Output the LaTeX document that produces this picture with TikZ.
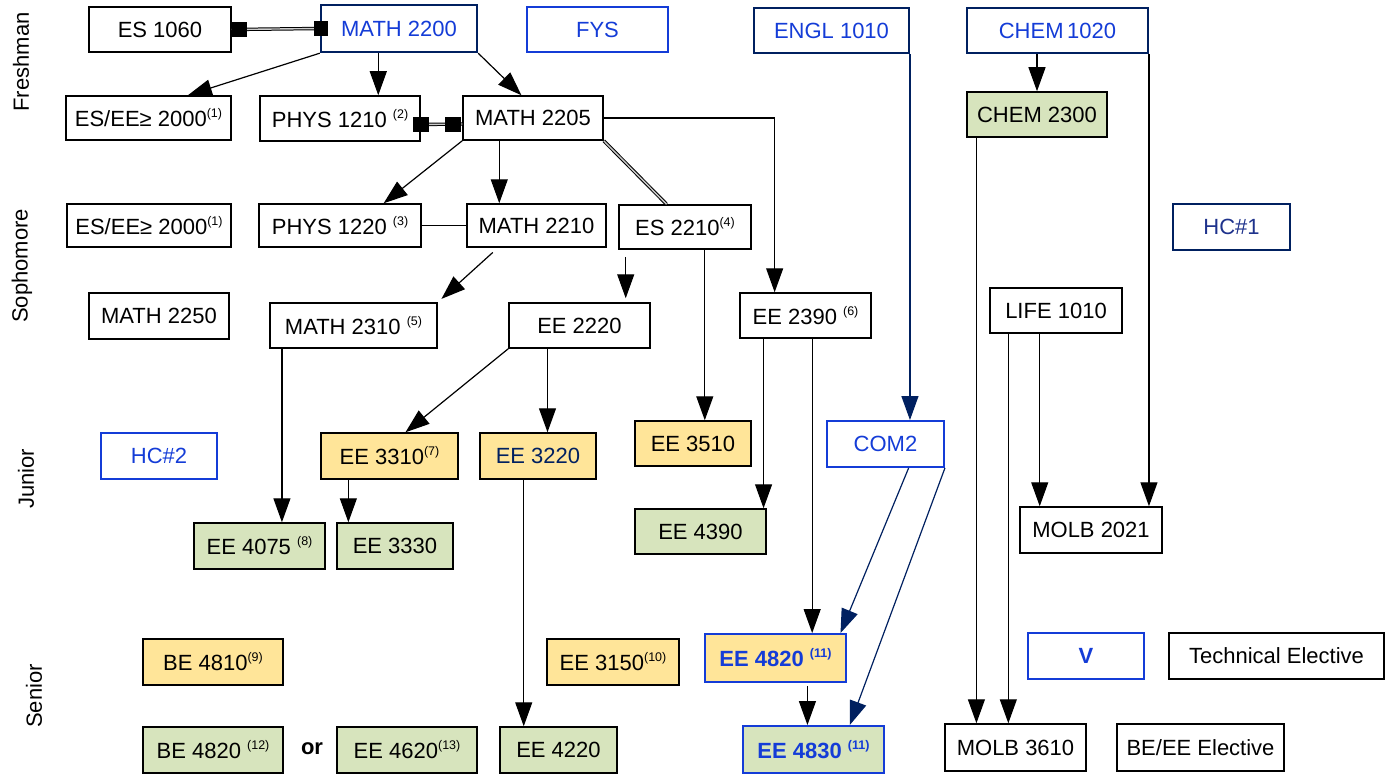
\documentclass[tikz,border=0pt]{standalone}
\usepackage{fontspec}
\setmainfont{Liberation Sans}
\usetikzlibrary{arrows.meta, positioning, calc}

\definecolor{crsblue}{RGB}{20,60,215}
\definecolor{crsnavy}{RGB}{0,32,96}
\definecolor{hcnavy}{RGB}{30,50,140}
\definecolor{crsyellow}{RGB}{255,229,153}
\definecolor{crsgreen}{RGB}{215,228,189}

\newcommand{\crsnote}[1]{\raisebox{9pt}{\fontsize{12.5}{12.5}\selectfont(#1)}}

\begin{document}
\begin{tikzpicture}[x=1pt, y=-1pt,
    sz/.style 2 args={minimum width=#1pt, minimum height=#2pt},
    crs/.style={draw, line width=1.5pt, inner sep=0pt, font=\fontsize{22}{24}\selectfont},
    req/.style={crs, line width=1.9pt, draw=crsblue, text=crsblue},
    eng/.style={crs, line width=1.9pt, draw=crsnavy, text=crsblue},
    ylw/.style={crs, fill=crsyellow},
    grn/.style={crs, fill=crsgreen},
    bld/.style={font=\fontsize{22}{24}\selectfont\bfseries},
    yr/.style={rotate=90, font=\fontsize{22}{24}\selectfont},
    arr/.style={line width=1.2pt, -{Triangle[length=24pt, width=17pt]}},
    narr/.style={arr, draw=crsnavy},
    dbl/.style={double=gray!40, double distance=1.4pt, line width=1pt}]
    \useasboundingbox (0,0) rectangle (1389,776);

    % Year labels
    \node[yr] (fresh) at (21,62) {Freshman};
    \node[yr] (soph) at (22,266) {Sophomore};
    \node[yr] (jun) at (26,479) {Junior};
    \node[yr] (sen) at (34,696) {Senior};

    % Freshman courses
    \node[crs, sz={142}{45}] (es1060) at (160,29.5) {ES 1060};
    \node[eng, line width=2.4pt, sz={156}{47}] (math2200) at (399,28.5) {MATH 2200};
    \node[req, sz={141}{45}] (fys) at (597.5,29.5) {FYS};
    \node[eng, sz={155}{45}] (engl1010) at (831.5,30.5) {ENGL 1010};
    \node[eng, sz={181}{45}] (chem1020) at (1057.5,30.5) {CHEM\,1020};
    \node[crs, sz={165}{44}] (esee1) at (148.5,118) {ES/EE≥ 2000\crsnote{1}};
    \node[crs, sz={160}{45}] (phys1210) at (340,118.5) {PHYS 1210 \crsnote{2}};
    \node[crs, sz={140}{44}] (math2205) at (533,118) {MATH 2205};
    \node[grn, sz={140}{45}] (chem2300) at (1037,114.5) {CHEM 2300};

    % Sophomore courses
    \node[crs, sz={164}{43}] (esee2) at (149,225.5) {ES/EE≥ 2000\crsnote{1}};
    \node[crs, sz={162}{43}] (phys1220) at (340,225.5) {PHYS 1220 \crsnote{3}};
    \node[crs, sz={139}{43}] (math2210) at (536.5,225.5) {MATH 2210};
    \node[crs, sz={132}{44}] (es2210) at (685,227) {ES 2210\crsnote{4}};
    \node[crs, line width=1.9pt, draw=crsnavy, text=hcnavy, sz={117}{46}] (hc1) at (1231.5,227) {HC\#1};
    \node[crs, sz={140}{46}] (math2250) at (159,316) {MATH 2250};
    \node[crs, sz={167}{45}] (math2310) at (353.5,325.5) {MATH 2310 \crsnote{5}};
    \node[crs, sz={141}{45}] (ee2220) at (579.5,325.5) {EE 2220};
    \node[crs, sz={131}{45}] (ee2390) at (805.5,315.5) {EE 2390 \crsnote{6}};
    \node[crs, sz={132}{45}] (life1010) at (1056,310.5) {LIFE 1010};

    % Junior courses
    \node[req, sz={116}{46}] (hc2) at (159,456) {HC\#2};
    \node[ylw, sz={137}{46}] (ee3310) at (389.5,456) {EE 3310\crsnote{7}};
    \node[ylw, text=crsnavy, sz={116}{46}] (ee3220) at (538,456) {EE 3220};
    \node[ylw, sz={116}{45}] (ee3510) at (693,443.5) {EE 3510};
    \node[req, sz={117}{46}] (com2) at (885.5,444) {COM2};
    \node[grn, sz={131}{46}] (ee4075) at (259.5,546) {EE 4075 \crsnote{8}};
    \node[grn, sz={116}{46}] (ee3330) at (395,546) {EE 3330};
    \node[grn, sz={131}{45}] (ee4390) at (700.5,531.5) {EE 4390};
    \node[crs, sz={142}{46}] (molb2021) at (1091,530) {MOLB 2021};

    % Senior courses
    \node[ylw, sz={140}{46}] (be4810) at (213,662) {BE 4810\crsnote{9}};
    \node[ylw, sz={132}{46}] (ee3150) at (613,662) {EE 3150\crsnote{10}};
    \node[ylw, line width=1.9pt, draw=crsblue, text=crsblue, bld, sz={141}{48}] (ee4820) at (775.5,658) {EE 4820 \crsnote{11}};
    \node[req, bld, sz={116}{46}] (elecv) at (1086,656) {V};
    \node[crs, sz={215}{46}] (techel) at (1276.5,656) {Technical Elective};
    \node[grn, sz={140}{46}] (be4820) at (213,750) {BE 4820 \crsnote{12}};
    \node[bld] (orlbl) at (312,749) {or};
    \node[grn, sz={140}{46}] (ee4620) at (407,750) {EE 4620\crsnote{13}};
    \node[grn, sz={117}{46}] (ee4220) at (558.5,750) {EE 4220};
    \node[grn, line width=1.9pt, draw=crsblue, text=crsblue, bld, sz={141}{47}] (ee4830) at (813.5,749.5) {EE 4830 \crsnote{11}};
    \node[crs, sz={141}{47}] (molb3610) at (1015.5,747.5) {MOLB 3610};
    \node[crs, sz={167}{47}] (beee) at (1200.5,747.5) {BE/EE Elective};

    % Freshman links
    \draw[dbl] (es1060.east) -- (math2200.west);
    \fill ([yshift=7.5pt]es1060.east) rectangle ++(15,15);
    \fill ([shift={(-6pt,7.5pt)}]math2200.west) rectangle ++(14,15);
    \draw[arr] (math2200.south west) -- (esee1.30);
    \draw[arr] (math2200.-130) -- (math2200.-130 |- phys1210.north);
    \draw[arr] (math2200.south east) -- (math2205.117);
    \draw[arr] (chem2300.north |- chem1020.south) -- (chem2300.north);
    \draw[dbl] ([yshift=-6pt]phys1210.east) -- ([yshift=-6pt]math2205.west);
    \fill ([shift={(-7.5pt,1.5pt)}]phys1210.east) rectangle ++(16,15);
    \fill ([shift={(-17pt,1.5pt)}]math2205.west) rectangle ++(16,15);

    % Sophomore links
    \draw[arr] (math2205.south west) -- (phys1220.27);
    \draw[arr] (math2205.-146) -- (math2205.-146 |- math2210.north);
    \draw[dbl] (math2205.south east) -- (es2210.129);
    \draw[arr] (math2205.east) -| (ee2390.143);
    \draw[line width=1.2pt] (phys1220.east) -- (math2210.west);
    \draw[arr, shorten <=7pt, shorten >=5pt] (math2210.-150) -- (math2310.north east);
    \draw[arr, shorten <=7pt, shorten >=4pt] (es2210.-159) -- (es2210.-159 |- ee2220.north);
    \draw[arr] (es2210.-49) -- (es2210.-49 |- ee3510.north);

    % Junior links
    \draw[arr] (ee2390.-151) -- (ee2390.-151 |- ee4390.north);
    \draw[arr] (ee2390.-74) -- (ee2390.-74 |- ee4820.north);
    \draw[narr] (engl1010.south east) -- (engl1010.south east |- com2.north);
    \draw[arr] (math2310.-162) -- (math2310.-162 |- ee4075.north);
    \draw[arr] (ee2220.south west) -- (ee3310.56);
    \draw[arr] (ee2220.-144) -- (ee2220.-144 |- ee3220.north);
    \draw[arr] (ee3310.-150) -- (ee3310.-150 |- ee3330.north);
    \draw[arr] (life1010.-125) -- (life1010.-125 |- molb2021.north);
    \draw[arr] (chem1020.south east) -- (chem1020.south east |- molb2021.north);

    % Senior links
    \draw[arr] (ee3220.-121) -- (ee3220.-121 |- ee4220.north);
    \draw[narr] (com2.-46) -- (ee4820.21);
    \draw[narr] (com2.south east) -- (ee4830.34);
    \draw[arr, shorten <=3pt] (ee4820.-38) -- (ee4820.-38 |- ee4830.north);
    \draw[arr] (chem2300.-159) -- (chem2300.-159 |- molb3610.north);
    \draw[arr] (life1010.-154) -- (life1010.-154 |- molb3610.north);
\end{tikzpicture}
\end{document}
